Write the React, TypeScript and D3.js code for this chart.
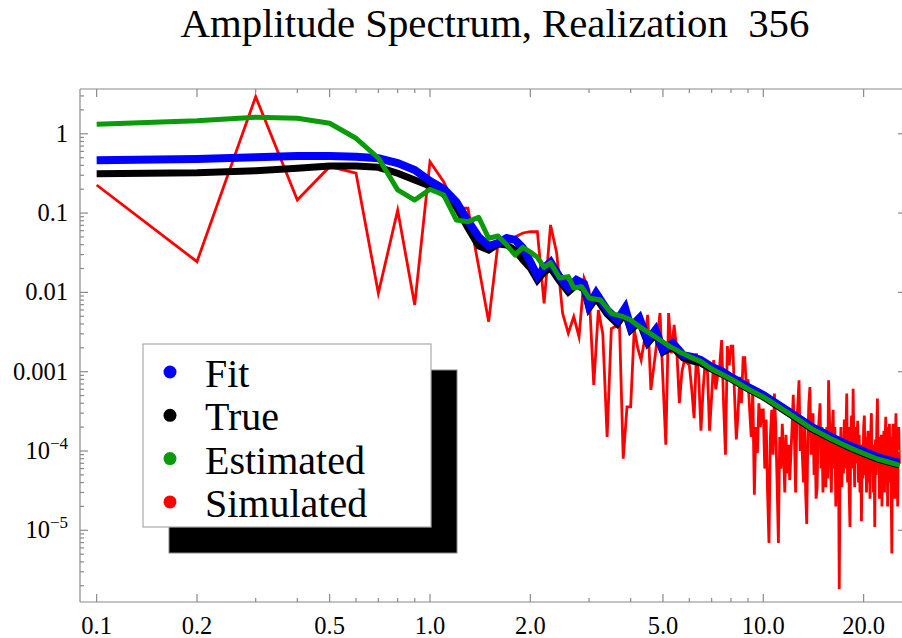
import React from 'react';
import * as d3 from 'd3';

const TITLE = 'Amplitude Spectrum, Realization  356';
const seriesNames = ['Fit', 'True', 'Estimated', 'Simulated'];
const seriesColors = ['#0000ff', '#000000', '#0a9a0a', '#ff0000'];

const xMajorTicks = [0.1, 0.2, 0.5, 1, 2, 5, 10, 20];
const xTickLabels = ['0.1', '0.2', '0.5', '1.0', '2.0', '5.0', '10.0', '20.0'];
const xMinorTicks = [0.3, 0.4, 0.6, 0.7, 0.8, 0.9, 3, 4, 6, 7, 8, 9];
const yMajorTicks = [1, 0.1, 0.01, 0.001, 1e-4, 1e-5];
const yTickBase = ['1', '0.1', '0.01', '0.001', '10', '10'];
const yTickExp = ['', '', '', '', '\u22124', '\u22125'];

// Fit (blue)
const fitFreq = [0.1, 0.2, 0.3, 0.4, 0.5, 0.6, 0.7, 0.8, 0.9, 1.0, 1.1, 1.2, 1.3, 1.4, 1.5, 1.6, 1.7, 1.8, 1.9, 2.0, 2.1, 2.2, 2.3, 2.45, 2.6, 2.75, 2.9, 3.0, 3.15, 3.4, 3.65, 3.85, 4.0, 4.25, 4.5, 4.75, 5.0, 5.35, 5.75, 6.15, 6.5, 7, 7.5, 8, 9, 10, 12, 14, 16, 18, 20, 22, 24, 25.6];
const fitAmp = [0.463, 0.481, 0.505, 0.525, 0.525, 0.514, 0.491, 0.428, 0.35, 0.254, 0.201, 0.138, 0.0795, 0.05, 0.0385, 0.042, 0.0485, 0.0458, 0.0363, 0.0242, 0.0161, 0.0203, 0.0242, 0.0156, 0.01136, 0.01433, 0.01276, 0.00694, 0.00983, 0.006, 0.00449, 0.00636, 0.00366, 0.00476, 0.00251, 0.00336, 0.00188, 0.0023, 0.00162, 0.00153, 0.0014, 0.00115, 0.00102, 0.000857, 0.000641, 0.000508, 0.00031, 0.000201, 0.00015, 0.000119, 0.0000986, 0.000084, 0.0000759, 0.0000706];

// True (black)
const trueFreq = fitFreq;
const trueAmp = [0.314, 0.323, 0.343, 0.367, 0.393, 0.393, 0.378, 0.318, 0.261, 0.22, 0.174, 0.119, 0.0649, 0.0385, 0.0342, 0.0408, 0.0396, 0.0342, 0.0256, 0.0203, 0.0143, 0.0181, 0.0203, 0.0139, 0.0101, 0.0124, 0.011, 0.00636, 0.0085, 0.00534, 0.004, 0.0055, 0.00336, 0.00423, 0.0023, 0.00299, 0.00177, 0.00205, 0.00149, 0.00136, 0.00128, 0.00108, 0.00093, 0.000809, 0.000605, 0.00048, 0.000293, 0.00019, 0.000142, 0.000112, 0.0000931, 0.0000793, 0.0000716, 0.0000665];

// Estimated (green)
const estFreq = [0.1, 0.2, 0.3, 0.4, 0.5, 0.6, 0.7, 0.8, 0.9, 1.0, 1.1, 1.2, 1.3, 1.4, 1.5, 1.6, 1.7, 1.8, 1.9, 2.0, 2.1, 2.2, 2.3, 2.45, 2.6, 2.7, 2.85, 3.0, 3.25, 3.5, 3.8, 4.0, 4.25, 4.55, 4.9, 5.25, 5.6, 6.0, 6.5, 7, 8, 9, 10, 12, 14, 16, 18, 20, 22, 24, 25.6];
const estAmp = [1.318, 1.463, 1.615, 1.568, 1.356, 0.878, 0.495, 0.196, 0.146, 0.2, 0.169, 0.0818, 0.0779, 0.0885, 0.0481, 0.0514, 0.0396, 0.0296, 0.037, 0.0323, 0.0277, 0.0207, 0.0237, 0.0152, 0.0158, 0.01136, 0.0118, 0.0085, 0.00802, 0.00545, 0.00494, 0.00449, 0.00369, 0.00308, 0.00251, 0.00207, 0.00179, 0.00155, 0.00134, 0.00108, 0.000809, 0.000605, 0.00048, 0.000293, 0.00019, 0.000142, 0.000112, 0.0000931, 0.0000793, 0.0000716, 0.0000665];

// Simulated (red), at frequencies 0.1, 0.2, ... 25.6
const simAmp = [
  0.226, 0.0244, 2.94, 0.146, 0.385, 0.318, 0.00975, 0.109, 0.00694, 0.445,
  0.247, 0.115, 0.115, 0.021, 0.00427, 0.0416, 0.0458, 0.05, 0.0561, 0.0582,
  0.0582, 0.00729, 0.0708, 0.0311, 0.00545, 0.00305, 0.00494, 0.00276, 0.0151, 0.0107,
  0.00068, 0.006, 0.003, 0.00015, 0.0035, 0.0037, 0.0045, 0.00008, 0.00036, 0.00036,
  0.0034, 0.002, 0.0014, 0.0025, 0.0052, 0.00059, 0.0012, 0.0025, 0.0055, 0.00078,
  0.00012, 0.0055, 0.0017, 0.0039, 0.0019, 0.0004, 0.001, 0.0014, 0.0013, 0.0012,
  0.0006, 0.00026, 0.0017, 0.0009, 0.00018, 0.0006, 0.0014, 0.001, 0.00018, 0.0005,
  0.0014, 0.0006, 0.0009, 0.0012, 0.0025, 0.0004, 0.00009, 0.0021, 0.0012, 0.0021,
  0.0021, 0.0005, 0.00014, 0.0003, 0.00086, 0.0004, 0.0015, 0.0015, 0.0006, 0.0008,
  0.00033, 0.00015, 0.0006, 0.000028, 0.0002, 0.000094, 0.0004, 0.0002, 0.00033, 0.00033,
  6e-5, 2.5e-4, 3e-5, 6.9e-6, 1.5e-4, 3.3e-4, 9e-5, 5.3e-4, 2e-4, 4e-5,
  6.9e-6, 1.5e-4, 6e-5, 2.2e-4, 1e-4, 3e-5, 1.6e-4, 5.2e-5, 1.2e-4, 4.3e-5,
  9e-5, 2e-4, 5.1e-4, 1.5e-4, 3e-5, 2.2e-4, 4e-4, 7.8e-4, 1e-4, 2.5e-4,
  8.6e-5, 4e-5, 2e-4, 3e-5, 1.2e-5, 1.5e-4, 4e-4, 6.4e-4, 9e-5, 1.2e-4,
  3e-4, 5e-5, 2e-4, 2.5e-5, 3.4e-5, 1.6e-4, 2.5e-4, 4e-4, 6e-5, 2e-4,
  3e-5, 8.6e-5, 1.5e-4, 3.5e-5, 2e-4, 4.5e-5, 7.8e-4, 2.5e-4, 8e-5, 3e-5,
  1.8e-4, 3.3e-4, 6e-5, 2e-4, 2e-5, 1.2e-4, 4e-5, 1.5e-4, 1.8e-6, 8e-5,
  2e-4, 3.5e-5, 1.4e-4, 5.2e-5, 2.5e-4, 6e-5, 1.8e-4, 5.3e-4, 4e-5, 2e-4,
  3e-5, 1.1e-5, 1.5e-4, 2.8e-4, 6e-5, 6.1e-4, 1.2e-4, 3.5e-5, 2e-4, 7e-5,
  1.5e-4, 2.4e-4, 4e-5, 1.6e-4, 3e-5, 1e-4, 1.3e-5, 1.2e-4, 4.5e-5, 2e-4,
  2.8e-4, 5e-5, 1.5e-4, 3e-5, 7.7e-5, 1.8e-4, 4e-5, 1.2e-4, 2.5e-5, 1.5e-4,
  3e-4, 6e-5, 1.2e-4, 3e-5, 1e-4, 1.1e-5, 1.4e-4, 5e-5, 2e-4, 4.6e-4,
  8e-5, 1.5e-4, 2.5e-5, 1.1e-4, 4e-5, 1.6e-4, 2e-5, 1e-4, 6.3e-5, 1.8e-4,
  3e-5, 1.3e-4, 2.7e-4, 5e-5, 2e-4, 2e-5, 1.2e-4, 4e-5, 2.2e-4, 6e-5,
  1.5e-4, 3e-5, 5.1e-6, 1.2e-4, 2.2e-4, 4e-5, 1.6e-4, 2.5e-5, 1.3e-4, 3e-4,
  5e-5, 1.4e-4, 2e-5, 1e-4, 2e-4, 6.9e-5,
];
const simFreq = d3.range(1, simAmp.length + 1).map((k) => k / 10);

const W = 902;
const H = 638;
const FONT = '"Liberation Serif", "Times New Roman", Times, serif';

export default function App() {
  const x = d3.scaleLog().domain([0.08913, 26.8]).range([80, 906]);
  const y = d3.scaleLog().domain([1.247e-6, 3.67]).range([602, 89]);
  const [x0, x1] = x.range();
  const [y0, y1] = y.range(); // y0 bottom, y1 top

  const line = d3
    .line<[number, number]>()
    .x((d) => x(d[0]))
    .y((d) => y(d[1]));

  const zip = (f: number[], a: number[]) => f.map((v, i) => [v, a[i]] as [number, number]);

  const yMinor: number[] = [];
  for (let e = -6; e <= 0; e++) {
    for (let m = 2; m <= 9; m++) {
      const v = m * Math.pow(10, e);
      if (v > y.domain()[0] && v < y.domain()[1]) yMinor.push(v);
    }
  }

  const frame = '#8a8a8a';
  const MAJ = 8;
  const MIN = 4;

  const legendX = 143;
  const legendY = 344;
  const legendW = 288;
  const legendH = 183;
  const shadow = 26;

  return (
    <svg
      width={W}
      height={H}
      style={{ position: 'absolute', left: 0, top: 0, background: '#fff' }}
      fontFamily={FONT}
    >
      <rect x={0} y={0} width={W} height={H} fill="#fff" />
      <text x={495} y={37} textAnchor="middle" fontSize={40.8} style={{ whiteSpace: 'pre' }}>
        {TITLE}
      </text>

      {/* data */}
      <path d={line(zip(simFreq, simAmp)) || ''} fill="none" stroke={seriesColors[3]} strokeWidth={2.8} strokeLinejoin="miter" strokeMiterlimit={6} />
      <path d={line(zip(trueFreq, trueAmp)) || ''} fill="none" stroke={seriesColors[1]} strokeWidth={7} strokeLinejoin="miter" strokeMiterlimit={3} />
      <path d={line(zip(fitFreq, fitAmp)) || ''} fill="none" stroke={seriesColors[0]} strokeWidth={8} strokeLinejoin="miter" strokeMiterlimit={3} />
      <path d={line(zip(estFreq, estAmp)) || ''} fill="none" stroke={seriesColors[2]} strokeWidth={5} strokeLinejoin="round" />

      {/* frame */}
      <g stroke={frame} strokeWidth={1.2} fill="none">
        <line x1={x0} y1={y1} x2={x1} y2={y1} />
        <line x1={x0} y1={y0} x2={x1} y2={y0} />
        <line x1={x0} y1={y1} x2={x0} y2={y0} />
        <line x1={x1} y1={y1} x2={x1} y2={y0} />
        {xMajorTicks.map((t) => (
          <g key={'xM' + t}>
            <line x1={x(t)} x2={x(t)} y1={y0} y2={y0 - MAJ} />
            <line x1={x(t)} x2={x(t)} y1={y1} y2={y1 + MAJ} />
          </g>
        ))}
        {xMinorTicks.map((t) => (
          <g key={'xm' + t}>
            <line x1={x(t)} x2={x(t)} y1={y0} y2={y0 - MIN} />
            <line x1={x(t)} x2={x(t)} y1={y1} y2={y1 + MIN} />
          </g>
        ))}
        {yMajorTicks.map((t) => (
          <g key={'yM' + t}>
            <line x1={x0} x2={x0 + MAJ} y1={y(t)} y2={y(t)} />
            <line x1={x1} x2={x1 - MAJ} y1={y(t)} y2={y(t)} />
          </g>
        ))}
        {yMinor.map((t) => (
          <g key={'ym' + t}>
            <line x1={x0} x2={x0 + MIN} y1={y(t)} y2={y(t)} />
            <line x1={x1} x2={x1 - MIN} y1={y(t)} y2={y(t)} />
          </g>
        ))}
      </g>

      {/* tick labels */}
      {xMajorTicks.map((t, i) => (
        <text key={'xl' + t} x={x(t)} y={634} textAnchor="middle" fontSize={24.5}>
          {xTickLabels[i]}
        </text>
      ))}
      {yMajorTicks.map((t, i) =>
        yTickExp[i] ? (
          <text key={'yl' + t} x={68} y={y(t) + 8} textAnchor="end" fontSize={24.5}>
            {yTickBase[i]}
            <tspan fontSize={17} dy={-10}>{yTickExp[i]}</tspan>
          </text>
        ) : (
          <text key={'yl' + t} x={68} y={y(t) + 8} textAnchor="end" fontSize={24.5}>
            {yTickBase[i]}
          </text>
        )
      )}

      {/* legend */}
      <rect x={legendX + shadow} y={legendY + shadow} width={legendW} height={legendH} fill="#000" stroke="#888" />
      <rect x={legendX} y={legendY} width={legendW} height={legendH} fill="#fff" stroke="#aaa" strokeWidth={1.2} />
      {seriesNames.map((name, i) => (
        <g key={name}>
          <circle cx={170} cy={372 + i * 43.3} r={6.5} fill={seriesColors[i]} />
          <text x={205} y={387 + i * 43.3} fontSize={40}>
            {name}
          </text>
        </g>
      ))}
    </svg>
  );
}
